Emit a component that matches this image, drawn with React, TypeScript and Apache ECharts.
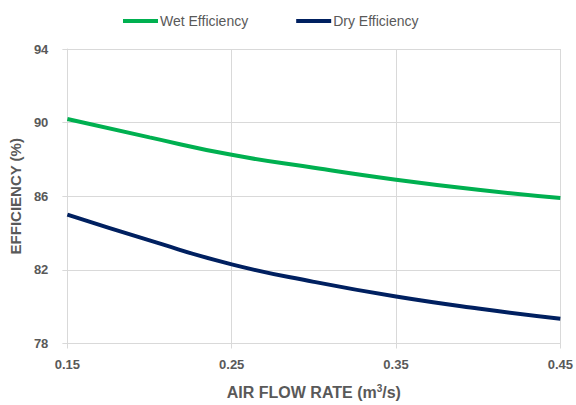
import React, { useEffect, useRef } from "react";
import * as echarts from "echarts";

// Air flow rate (m³/s) sample points
const flowRates = ["0.15", "0.2", "0.25", "0.3", "0.35", "0.4", "0.45"];
// Efficiency (%) per flow rate
const wetEfficiency = [90.2, 89.2, 88.25, 87.55, 86.9, 86.35, 85.9];
const dryEfficiency = [85.0, 83.6, 82.3, 81.35, 80.55, 79.9, 79.35];
// Value axis range and step
const Y_MIN = 78;
const Y_MAX = 94;
const Y_STEP = 4;

const FONT = "'Liberation Sans', Arial, sans-serif";
const GREY = "#595959";
const GRID = "#d9d9d9";

export default function App() {
  const ref = useRef<HTMLDivElement>(null);

  useEffect(() => {
    if (!ref.current) return;
    document.body.style.margin = "0";
    document.body.style.overflow = "hidden";
    const chart = echarts.init(ref.current, null, { renderer: "svg" });
    // values are plotted relative to Y_MIN so the ticks land on 78, 82, ...
    const shift = (arr: number[]) => arr.map((v) => +(v - Y_MIN).toFixed(4));
    chart.setOption({
      animation: false,
      backgroundColor: "#ffffff",
      textStyle: { fontFamily: FONT },
      legend: {
        top: 9,
        left: 118,
        itemWidth: 35,
        itemHeight: 4,
        itemGap: 48,
        icon: "rect",
        textStyle: { color: GREY, fontSize: 14, fontFamily: FONT, padding: [0, 0, 0, -3] },
        data: ["Wet Efficiency", "Dry Efficiency"],
      },
      grid: { left: 62, right: 15, top: 49, bottom: 58 },
      xAxis: {
        type: "category",
        data: flowRates,
        boundaryGap: false,
        name: "AIR FLOW RATE (m{sup|3}/s)",
        nameLocation: "middle",
        nameGap: 40,
        nameTextStyle: {
          color: GREY,
          fontSize: 16,
          fontWeight: "bold",
          fontFamily: FONT,
          rich: {
            sup: { fontSize: 10, fontWeight: "bold", color: GREY, verticalAlign: "top", padding: [0, 0, 7, 0] },
          },
        },
        axisLine: { lineStyle: { color: GRID, width: 1 } },
        axisTick: { show: true, interval: 1, length: 5, lineStyle: { color: GRID } },
        axisLabel: {
          interval: 1,
          margin: 14,
          color: GREY,
          fontSize: 13,
          fontWeight: "bold",
          fontFamily: FONT,
        },
        splitLine: { show: true, interval: 1, lineStyle: { color: GRID, width: 1 } },
      },
      yAxis: {
        type: "value",
        min: 0,
        max: Y_MAX - Y_MIN,
        interval: Y_STEP,
        name: "EFFICIENCY (%)",
        nameLocation: "middle",
        nameGap: 36,
        nameRotate: 90,
        nameTextStyle: { color: GREY, fontSize: 15, fontWeight: "bold", fontFamily: FONT },
        axisLine: { show: true, lineStyle: { color: GRID, width: 1 } },
        axisTick: { show: true, length: 5, lineStyle: { color: GRID } },
        axisLabel: {
          margin: 19,
          color: GREY,
          fontSize: 13,
          fontWeight: "bold",
          fontFamily: FONT,
          formatter: (v: number) => String(v + Y_MIN),
        },
        splitLine: { show: true, lineStyle: { color: GRID, width: 1 } },
      },
      series: [
        {
          name: "Wet Efficiency",
          type: "line",
          data: shift(wetEfficiency),
          smooth: true,
          showSymbol: false,
          color: "#00b050",
          lineStyle: { width: 4, color: "#00b050" },
        },
        {
          name: "Dry Efficiency",
          type: "line",
          data: shift(dryEfficiency),
          smooth: true,
          showSymbol: false,
          color: "#002060",
          lineStyle: { width: 4, color: "#002060" },
        },
      ],
    });
    return () => chart.dispose();
  }, []);

  return <div ref={ref} style={{ width: 576, height: 405 }} />;
}
